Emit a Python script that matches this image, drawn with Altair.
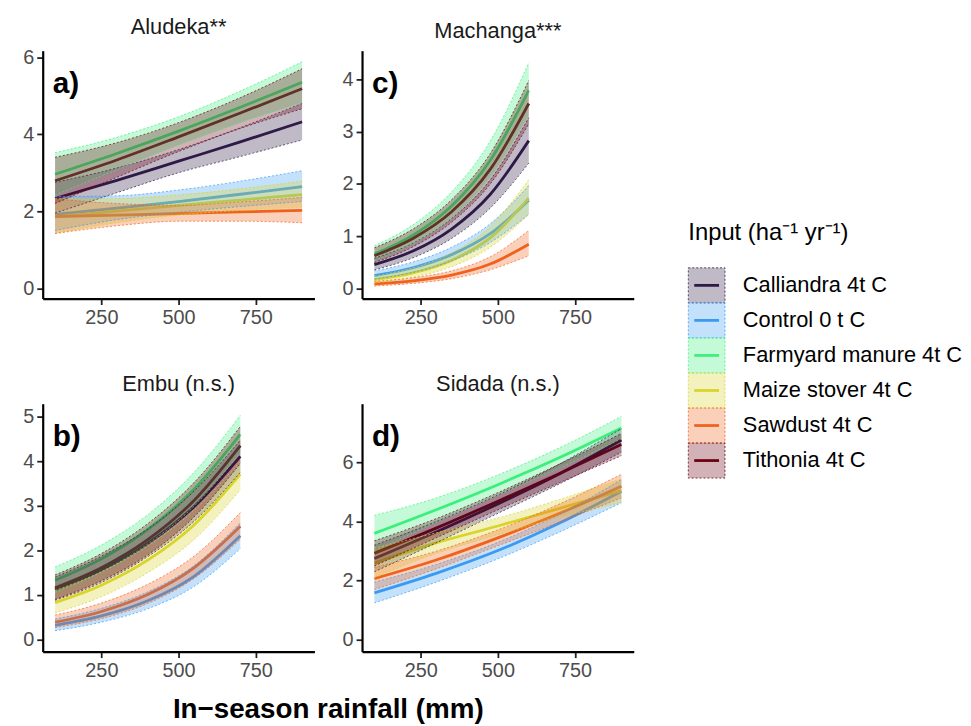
import altair as alt
import pandas as pd

FONT = "Liberation Sans"

SERIES = ["Calliandra 4t C", "Control 0 t C", "Farmyard manure 4t C",
          "Maize stover 4t C", "Sawdust 4t C", "Tithonia 4t C"]
COLORS = ["#2e1a47", "#3a9af2", "#3cf07c", "#d8d42a", "#f0621e", "#6b0010"]

X_TICKS = [250, 500, 750]
X_DOMAIN = [60, 940]

# ---------------- Aludeka ----------------
ALUDEKA_X = [100, 300, 500, 700, 900]
ALUDEKA_MID = {
    "Calliandra 4t C":      [2.33, 2.80, 3.30, 3.80, 4.32],
    "Control 0 t C":        [1.92, 2.08, 2.25, 2.44, 2.64],
    "Farmyard manure 4t C": [2.96, 3.50, 4.08, 4.70, 5.35],
    "Maize stover 4t C":    [1.85, 2.00, 2.15, 2.29, 2.43],
    "Sawdust 4t C":         [1.86, 1.90, 1.94, 1.98, 2.02],
    "Tithonia 4t C":        [2.79, 3.33, 3.93, 4.55, 5.18],
}
ALUDEKA_LO = {
    "Calliandra 4t C":      [1.95, 2.48, 3.00, 3.42, 3.85],
    "Control 0 t C":        [1.50, 1.78, 1.97, 2.12, 2.25],
    "Farmyard manure 4t C": [2.42, 3.08, 3.72, 4.30, 4.82],
    "Maize stover 4t C":    [1.42, 1.70, 1.90, 2.02, 2.10],
    "Sawdust 4t C":         [1.42, 1.62, 1.74, 1.74, 1.70],
    "Tithonia 4t C":        [2.20, 2.88, 3.55, 4.15, 4.66],
}
ALUDEKA_HI = {
    "Calliandra 4t C":      [2.75, 3.12, 3.60, 4.17, 4.80],
    "Control 0 t C":        [2.38, 2.40, 2.55, 2.78, 3.05],
    "Farmyard manure 4t C": [3.52, 3.92, 4.45, 5.12, 5.88],
    "Maize stover 4t C":    [2.32, 2.33, 2.42, 2.58, 2.78],
    "Sawdust 4t C":         [2.32, 2.20, 2.15, 2.24, 2.36],
    "Tithonia 4t C":        [3.40, 3.78, 4.30, 4.95, 5.70],
}

# ---------------- Machanga ----------------
MACHANGA_X = [100, 225, 350, 475, 600]
MACHANGA_MID = {
    "Calliandra 4t C":      [0.46, 0.72, 1.14, 1.80, 2.83],
    "Control 0 t C":        [0.25, 0.40, 0.65, 1.05, 1.69],
    "Farmyard manure 4t C": [0.66, 1.02, 1.58, 2.45, 3.79],
    "Maize stover 4t C":    [0.17, 0.30, 0.54, 0.97, 1.73],
    "Sawdust 4t C":         [0.09, 0.15, 0.26, 0.47, 0.85],
    "Tithonia 4t C":        [0.63, 0.96, 1.47, 2.28, 3.54],
}
MACHANGA_LO = {
    "Calliandra 4t C":      [0.36, 0.59, 0.96, 1.54, 2.40],
    "Control 0 t C":        [0.18, 0.31, 0.53, 0.88, 1.42],
    "Farmyard manure 4t C": [0.54, 0.86, 1.35, 2.13, 3.32],
    "Maize stover 4t C":    [0.11, 0.22, 0.42, 0.79, 1.42],
    "Sawdust 4t C":         [0.05, 0.10, 0.19, 0.36, 0.63],
    "Tithonia 4t C":        [0.50, 0.80, 1.27, 2.00, 3.15],
}
MACHANGA_HI = {
    "Calliandra 4t C":      [0.58, 0.87, 1.34, 2.08, 3.27],
    "Control 0 t C":        [0.34, 0.51, 0.79, 1.24, 1.97],
    "Farmyard manure 4t C": [0.82, 1.22, 1.85, 2.82, 4.32],
    "Maize stover 4t C":    [0.24, 0.40, 0.68, 1.19, 2.08],
    "Sawdust 4t C":         [0.14, 0.21, 0.34, 0.61, 1.11],
    "Tithonia 4t C":        [0.78, 1.14, 1.70, 2.58, 3.98],
}

# ---------------- Embu ----------------
EMBU_X = [100, 250, 400, 550, 700]
EMBU_MID = {
    "Calliandra 4t C":      [1.12, 1.56, 2.16, 2.98, 4.11],
    "Control 0 t C":        [0.32, 0.53, 0.87, 1.42, 2.33],
    "Farmyard manure 4t C": [1.33, 1.81, 2.47, 3.37, 4.60],
    "Maize stover 4t C":    [0.83, 1.22, 1.78, 2.57, 3.71],
    "Sawdust 4t C":         [0.39, 0.63, 1.01, 1.61, 2.54],
    "Tithonia 4t C":        [1.16, 1.61, 2.24, 3.12, 4.35],
}
EMBU_LO = {
    "Calliandra 4t C":      [0.88, 1.28, 1.86, 2.65, 3.75],
    "Control 0 t C":        [0.20, 0.39, 0.69, 1.19, 2.04],
    "Farmyard manure 4t C": [1.06, 1.52, 2.14, 2.99, 4.20],
    "Maize stover 4t C":    [0.60, 0.96, 1.50, 2.24, 3.36],
    "Sawdust 4t C":         [0.27, 0.47, 0.81, 1.37, 2.25],
    "Tithonia 4t C":        [0.90, 1.32, 1.90, 2.75, 3.95],
}
EMBU_HI = {
    "Calliandra 4t C":      [1.40, 1.87, 2.48, 3.33, 4.47],
    "Control 0 t C":        [0.46, 0.70, 1.07, 1.66, 2.62],
    "Farmyard manure 4t C": [1.63, 2.12, 2.80, 3.75, 5.03],
    "Maize stover 4t C":    [1.10, 1.52, 2.10, 2.90, 4.00],
    "Sawdust 4t C":         [0.55, 0.82, 1.24, 1.87, 2.85],
    "Tithonia 4t C":        [1.45, 1.93, 2.60, 3.52, 4.78],
}

# ---------------- Sidada ----------------
SIDADA_X = [100, 300, 500, 700, 900]
SIDADA_MID = {
    "Calliandra 4t C":      [2.75, 3.65, 4.60, 5.62, 6.76],
    "Control 0 t C":        [1.59, 2.25, 3.02, 3.95, 5.03],
    "Farmyard manure 4t C": [3.60, 4.40, 5.25, 6.17, 7.17],
    "Maize stover 4t C":    [2.60, 3.28, 3.85, 4.45, 5.05],
    "Sawdust 4t C":         [2.07, 2.70, 3.45, 4.28, 5.20],
    "Tithonia 4t C":        [2.93, 3.78, 4.69, 5.63, 6.61],
}
SIDADA_LO = {
    "Calliandra 4t C":      [2.30, 3.28, 4.28, 5.28, 6.35],
    "Control 0 t C":        [1.25, 1.95, 2.74, 3.65, 4.64],
    "Farmyard manure 4t C": [3.00, 3.98, 4.90, 5.82, 6.80],
    "Maize stover 4t C":    [2.10, 2.92, 3.55, 4.14, 4.65],
    "Sawdust 4t C":         [1.70, 2.40, 3.18, 3.98, 4.80],
    "Tithonia 4t C":        [2.50, 3.45, 4.40, 5.32, 6.23],
}
SIDADA_HI = {
    "Calliandra 4t C":      [3.20, 4.00, 4.90, 5.95, 7.15],
    "Control 0 t C":        [1.95, 2.55, 3.30, 4.25, 5.42],
    "Farmyard manure 4t C": [4.21, 4.80, 5.58, 6.50, 7.56],
    "Maize stover 4t C":    [3.10, 3.62, 4.12, 4.75, 5.45],
    "Sawdust 4t C":         [2.45, 3.00, 3.72, 4.60, 5.60],
    "Tithonia 4t C":        [3.35, 4.10, 4.98, 5.95, 6.98],
}

LEGEND_TITLE = "Input (ha\u207b\u00b9 yr\u207b\u00b9)"
X_TITLE = "In\u2212season rainfall (mm)"

PW, PH = 274, 250

color = alt.Color("series:N", scale=alt.Scale(domain=SERIES, range=COLORS), legend=None)


def panel(title, label, xs, mid, lo, hi, ydom, yticks):
    rows = []
    for s in SERIES:
        for i, xv in enumerate(xs):
            rows.append({"series": s, "x": xv, "mid": mid[s][i], "lo": lo[s][i], "hi": hi[s][i]})
    df = pd.DataFrame(rows)
    xsc = alt.Scale(domain=X_DOMAIN, nice=False, zero=False)
    ysc = alt.Scale(domain=ydom, nice=False, zero=False)
    xax = alt.Axis(values=X_TICKS, title=None)
    yax = alt.Axis(values=yticks, title=None)
    x = alt.X("x:Q", scale=xsc, axis=xax)
    base = alt.Chart(df)
    line = base.mark_line(strokeWidth=2.8, interpolate="monotone").encode(
        x=x, y=alt.Y("mid:Q", scale=ysc, axis=yax), color=color, detail="series:N")
    band = base.mark_area(fillOpacity=0.3, interpolate="monotone").encode(
        x=x, y=alt.Y("lo:Q", scale=ysc, axis=yax), y2="hi:Q", color=color, detail="series:N")
    edge = base.transform_fold(["lo", "hi"], as_=["bound", "val"]).mark_line(
        strokeWidth=0.7, strokeDash=[2, 2], interpolate="monotone").encode(
        x=x, y=alt.Y("val:Q", scale=ysc, axis=yax), color=color,
        detail=alt.Detail(["series:N", "bound:N"]))
    lab = alt.Chart(pd.DataFrame({"t": [label]})).mark_text(
        font=FONT, fontSize=30, fontWeight="bold", align="left", baseline="middle",
        color="black").encode(text="t:N", x=alt.value(10), y=alt.value(34))
    return alt.layer(line, band, edge, lab).properties(
        width=PW, height=PH,
        title=alt.TitleParams(title, font=FONT, fontSize=22, fontWeight="normal",
                              color="#1a1a1a", offset=8, anchor="middle"))


pA = panel("Aludeka**", "a)", ALUDEKA_X, ALUDEKA_MID, ALUDEKA_LO, ALUDEKA_HI, [-0.27, 6.17], [0, 2, 4, 6])
pC = panel("Machanga***", "c)", MACHANGA_X, MACHANGA_MID, MACHANGA_LO, MACHANGA_HI, [-0.19, 4.55], [0, 1, 2, 3, 4])
pB = panel("Embu (n.s.)", "b)", EMBU_X, EMBU_MID, EMBU_LO, EMBU_HI, [-0.27, 5.29], [0, 1, 2, 3, 4, 5])
pD = panel("Sidada (n.s.)", "d)", SIDADA_X, SIDADA_MID, SIDADA_LO, SIDADA_HI, [-0.4, 7.99], [0, 2, 4, 6])

row1 = alt.hconcat(pA, pC, spacing=27)
row2 = alt.hconcat(pB, pD, spacing=27)
grid = alt.vconcat(row1, row2, spacing=46).properties(
    title=alt.TitleParams(X_TITLE, orient="bottom", anchor="middle", font=FONT,
                          fontSize=28, fontWeight="bold", color="black", offset=16))

# ---------------- legend ----------------
LEG_TOP, LEG_BOT = 219, 431
leg_df = pd.DataFrame({"series": SERIES})
ysc_leg = alt.Scale(domain=SERIES, range=[LEG_TOP, LEG_BOT], paddingInner=0, paddingOuter=0)
leg_base = alt.Chart(leg_df)
leg_rect = leg_base.mark_rect(fillOpacity=0.3, strokeWidth=0.8, strokeDash=[2, 2]).encode(
    y=alt.Y("series:N", scale=ysc_leg, axis=None, sort=SERIES),
    x=alt.value(0), x2=alt.value(37),
    fill=alt.Fill("series:N", scale=alt.Scale(domain=SERIES, range=COLORS), legend=None),
    stroke=alt.Stroke("series:N", scale=alt.Scale(domain=SERIES, range=COLORS), legend=None))
leg_line = leg_base.mark_rule(strokeWidth=2.8).encode(
    y=alt.Y("series:N", scale=ysc_leg, axis=None, sort=SERIES, bandPosition=0.5),
    x=alt.value(6), x2=alt.value(31), color=color)
leg_text = leg_base.mark_text(font=FONT, fontSize=22, align="left", baseline="middle",
                              color="black").encode(
    y=alt.Y("series:N", scale=ysc_leg, axis=None, sort=SERIES, bandPosition=0.5),
    x=alt.value(55), text="series:N")
leg_title = alt.Chart(pd.DataFrame({"t": [LEGEND_TITLE]})).mark_text(
    font=FONT, fontSize=24, align="left", baseline="middle", color="black").encode(
    text="t:N", x=alt.value(0), y=alt.value(LEG_TOP - 35))
legend = alt.layer(leg_rect, leg_line, leg_text, leg_title).properties(width=260, height=560)

chart = alt.hconcat(grid, legend, spacing=54).properties(
    padding={"left": 14, "top": 5, "right": 0, "bottom": 0}
).configure_view(stroke=None).configure_axis(
    grid=False, domainColor="black", domainWidth=2.2, tickColor="#222222", tickWidth=1.8,
    tickSize=6, labelColor="#4d4d4d", labelFont=FONT, labelFontSize=20, labelPadding=3,
)

chart.save("out.html", embed_options={"renderer": "svg", "actions": False})
